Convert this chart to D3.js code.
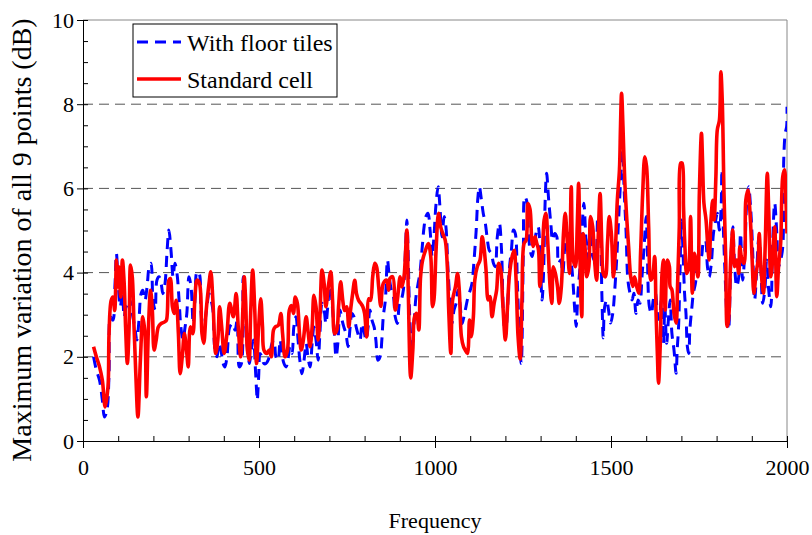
<!DOCTYPE html>
<html>
<head>
<meta charset="utf-8">
<script src="https://cdn.jsdelivr.net/npm/d3@7"></script>
<style>
  body { margin: 0; background: #fff; }
  svg text { font-family: "Liberation Serif", "Times New Roman", serif !important; fill: #000; }
</style>
</head>
<body>
<div id="my_dataviz"></div>
<script>

// frequency (Hz), maximum variation (dB)
var tilesData = [
  [30,2.0],[38,1.68],[47,1.44],[55,0.97],[61,0.57],[68,0.73],[74,1.6],[78,2.95],[85,2.87],[91,3.74],
  [95,4.45],[100,3.74],[106,3.19],[112,3.5],[117,2.95],[123,3.19],[129,3.11],[134,3.34],[140,3.03],[147,2.71],
  [153,2.4],[159,2.87],[165,3.5],[170,3.58],[176,3.34],[182,3.66],[188,4.14],[193,4.22],[199,3.34],[205,3.11],
  [210,3.82],[216,3.9],[222,3.74],[227,3.5],[233,3.74],[239,4.53],[244,5.01],[250,4.53],[256,3.9],[261,4.22],
  [267,3.98],[273,3.34],[278,2.71],[284,2.4],[290,2.71],[295,3.03],[301,3.9],[307,3.66],[313,2.79],[318,3.34],
  [324,4.02],[330,3.98],[335,3.11],[341,2.55],[347,2.87],[352,3.19],[358,3.5],[364,3.34],[369,3.11],[375,2.16],
  [381,2.0],[386,2.32],[392,2.16],[398,1.84],[403,1.76],[409,2.0],[417,2.71],[425,2.79],[432,2.63],[438,2.87],
  [444,1.76],[450,1.84],[455,3.9],[461,3.1],[467,2.24],[473,1.84],[478,2.16],[484,2.4],[490,1.68],[493,1.21],
  [495,0.97],[499,1.52],[503,2.08],[508,2.0],[514,1.84],[520,1.84],[526,1.92],[531,2.08],[537,2.32],[543,2.4],
  [548,2.0],[554,1.92],[560,2.4],[565,2.08],[571,1.84],[577,1.76],[582,1.92],[588,2.24],[594,2.08],[599,2.71],
  [605,2.95],[611,2.4],[616,1.92],[622,1.6],[628,1.92],[634,2.32],[639,2.0],[645,1.76],[651,2.32],[656,2.71],
  [662,2.4],[668,1.92],[673,2.55],[679,3.27],[685,3.11],[690,2.79],[696,3.27],[702,3.9],[707,3.34],[713,2.71],
  [719,2.0],[724,2.32],[730,3.11],[736,2.87],[741,2.71],[747,2.55],[753,2.24],[759,2.71],[764,3.03],[770,2.95],
  [776,2.71],[781,2.55],[787,2.4],[793,2.79],[798,2.63],[804,2.4],[810,2.71],[815,3.11],[821,2.87],[827,2.71],
  [832,2.4],[838,1.92],[844,2.0],[849,2.4],[853,2.95],[859,3.35],[865,4.3],[870,3.9],[876,3.58],[882,3.43],
  [887,2.95],[893,2.79],[899,3.27],[904,3.35],[910,3.58],[916,4.53],[920,5.25],[923,4.69],[929,2.79],[935,2.16],
  [940,2.72],[946,3.43],[952,3.74],[957,3.98],[963,4.53],[969,5.09],[974,5.33],[980,5.41],[986,5.01],[992,4.38],
  [997,4.85],[1003,5.64],[1009,6.04],[1014,5.56],[1020,4.85],[1026,5.33],[1031,5.09],[1037,4.06],[1043,3.27],[1048,2.79],
  [1054,3.11],[1060,3.27],[1065,3.58],[1071,3.27],[1077,2.79],[1082,2.95],[1088,3.19],[1094,3.43],[1100,3.58],[1105,3.74],
  [1111,4.3],[1117,5.01],[1122,5.8],[1126,6.04],[1132,5.72],[1137,5.41],[1143,5.17],[1149,4.77],[1154,4.53],[1160,4.46],
  [1166,4.22],[1171,4.14],[1177,4.85],[1183,5.17],[1189,4.53],[1194,3.11],[1200,2.48],[1206,3.11],[1211,4.06],[1217,4.53],
  [1223,5.01],[1228,4.93],[1234,3.74],[1240,2.48],[1245,1.84],[1251,4.53],[1255,5.8],[1260,5.72],[1266,4.93],[1270,4.54],
  [1276,4.38],[1281,4.62],[1287,4.93],[1293,5.09],[1298,4.62],[1304,3.35],[1308,3.9],[1313,5.72],[1317,6.36],[1323,5.72],
  [1329,5.17],[1334,4.77],[1340,4.93],[1346,4.85],[1351,4.22],[1357,4.3],[1363,3.98],[1368,4.54],[1374,4.85],[1380,4.93],
  [1385,4.46],[1391,3.9],[1397,3.11],[1401,2.72],[1406,3.51],[1412,4.14],[1418,5.09],[1423,5.65],[1429,4.77],[1435,4.3],
  [1440,4.93],[1446,4.46],[1452,4.3],[1457,4.38],[1463,5.33],[1469,5.09],[1474,3.51],[1478,2.45],[1482,3.19],[1488,3.35],
  [1493,3.11],[1499,2.8],[1505,3.03],[1510,3.51],[1516,4.3],[1522,5.33],[1528,6.28],[1533,6.91],[1537,6.04],[1543,4.93],
  [1548,3.82],[1554,3.51],[1560,3.35],[1565,3.51],[1571,3.03],[1577,3.35],[1582,3.27],[1588,3.9],[1594,4.62],[1600,5.33],
  [1603,4.62],[1609,3.19],[1615,3.03],[1620,3.35],[1626,3.51],[1632,3.03],[1637,2.88],[1643,3.35],[1649,2.32],[1653,3.19],
  [1658,2.32],[1663,2.88],[1668,3.35],[1673,2.56],[1679,2.16],[1685,1.61],[1688,2.16],[1692,2.72],[1696,3.98],[1700,5.25],
  [1704,4.62],[1709,3.51],[1713,3.03],[1717,2.24],[1721,2.08],[1724,2.64],[1730,3.19],[1734,3.51],[1740,3.75],[1745,4.14],
  [1751,4.3],[1757,4.38],[1762,4.7],[1768,4.77],[1774,4.14],[1779,3.9],[1785,4.22],[1791,4.93],[1796,5.17],[1802,5.41],
  [1808,5.01],[1813,5.57],[1815,6.44],[1819,5.09],[1824,3.98],[1829,3.03],[1834,2.64],[1840,4.14],[1846,5.09],[1851,4.22],
  [1857,3.67],[1863,3.9],[1868,4.93],[1874,3.82],[1880,4.46],[1885,5.57],[1891,6.04],[1897,5.49],[1902,4.62],[1908,3.35],
  [1914,4.06],[1920,4.85],[1925,4.3],[1931,3.27],[1937,3.59],[1942,4.3],[1948,3.59],[1954,3.19],[1959,4.62],[1965,5.65],
  [1971,4.93],[1976,4.14],[1982,4.3],[1988,4.62],[1991,6.75],[1995,7.31],[1999,7.47],[2000,7.94]
];

var standardData = [
  [30,2.24],[38,2.0],[47,1.76],[55,1.44],[63,0.81],[71,1.29],[74,2.55],[80,3.34],[85,3.42],[90,3.1],
  [95,4.3],[98,3.66],[102,4.14],[107,3.42],[112,4.3],[117,3.74],[121,2.71],[126,1.84],[131,2.71],[135,4.18],
  [140,3.9],[145,2.71],[150,1.6],[156,0.57],[163,1.92],[170,2.95],[176,2.55],[180,1.05],[186,2.71],[192,3.58],
  [197,3.1],[202,2.16],[208,2.4],[214,2.71],[222,2.79],[232,2.83],[237,2.87],[244,3.82],[248,3.86],[254,3.19],
  [259,3.03],[265,3.34],[271,2.55],[276,1.6],[282,2.0],[288,2.55],[294,2.16],[299,1.76],[305,2.71],[312,2.55],
  [318,3.42],[324,3.82],[331,3.74],[338,2.55],[343,2.32],[350,3.1],[358,3.74],[363,4.02],[369,3.34],[377,2.08],
  [383,2.4],[388,3.19],[394,2.71],[401,2.08],[409,2.55],[417,3.27],[427,2.95],[435,3.5],[441,2.71],[448,2.0],
  [454,3.1],[458,3.9],[462,3.34],[467,2.16],[472,1.92],[476,2.95],[482,4.06],[488,3.1],[493,1.84],[499,2.71],
  [505,3.38],[510,2.71],[514,2.16],[522,2.08],[529,2.16],[535,2.0],[541,2.63],[546,2.71],[555,2.75],[562,3.03],
  [567,2.55],[574,2.0],[581,2.16],[586,3.1],[592,3.22],[598,3.03],[603,3.42],[609,3.27],[615,2.55],[620,2.16],
  [626,2.4],[634,2.95],[639,2.63],[645,2.24],[651,2.71],[656,3.46],[662,3.19],[668,2.4],[673,2.95],[679,4.06],
  [685,3.74],[690,3.19],[698,3.74],[704,4.02],[709,3.34],[715,2.55],[721,2.63],[726,3.19],[732,3.78],[738,3.34],
  [743,3.1],[749,3.19],[755,2.71],[760,3.1],[766,3.5],[772,3.82],[777,3.5],[783,3.34],[789,3.27],[795,3.19],
  [800,3.03],[806,2.47],[812,3.38],[817,3.34],[823,3.9],[829,4.22],[834,4.14],[840,3.66],[846,3.2],[853,3.74],
  [863,3.82],[868,3.58],[872,3.86],[880,3.9],[887,3.11],[893,3.35],[901,3.9],[906,3.66],[912,3.9],[920,5.01],
  [924,3.58],[931,1.5],[937,2.16],[942,2.95],[948,3.03],[954,2.64],[959,3.9],[965,4.3],[973,4.53],[981,4.69],
  [988,4.38],[993,3.19],[997,3.35],[1003,4.53],[1010,5.41],[1016,5.09],[1022,4.93],[1029,4.77],[1035,4.14],[1039,3.11],
  [1045,2.08],[1050,3.35],[1058,3.66],[1064,3.98],[1069,3.58],[1075,2.48],[1081,2.24],[1086,2.16],[1092,2.08],[1098,2.87],
  [1103,2.48],[1109,2.95],[1113,3.82],[1120,4.14],[1128,4.3],[1134,4.85],[1139,4.61],[1145,4.06],[1151,3.35],[1156,3.43],
  [1162,2.95],[1168,3.27],[1175,3.58],[1181,4.22],[1187,4.06],[1192,3.35],[1200,2.4],[1206,3.19],[1211,3.9],[1219,4.38],
  [1225,4.53],[1230,3.9],[1236,2.48],[1242,1.95],[1247,3.35],[1253,4.69],[1259,4.77],[1264,5.64],[1270,5.5],[1275,4.77],
  [1279,4.62],[1284,4.85],[1289,4.7],[1294,4.54],[1298,3.67],[1304,4.14],[1310,5.25],[1315,5.41],[1321,4.62],[1327,3.67],
  [1332,3.27],[1336,4.14],[1342,3.98],[1348,3.67],[1353,3.27],[1359,3.67],[1365,4.93],[1370,5.41],[1376,4.7],[1382,3.98],
  [1387,6.04],[1393,4.3],[1399,4.14],[1404,5.09],[1408,6.12],[1412,4.3],[1417,2.95],[1421,4.93],[1426,4.62],[1431,3.9],
  [1437,4.14],[1442,5.33],[1448,5.09],[1454,4.22],[1459,3.82],[1464,4.93],[1469,5.88],[1474,4.62],[1478,3.98],[1484,3.9],
  [1490,4.7],[1495,5.33],[1501,4.93],[1507,3.9],[1512,4.46],[1518,5.72],[1524,6.44],[1527,7.47],[1530,8.26],[1534,7.47],
  [1539,6.2],[1545,5.25],[1550,4.62],[1556,3.9],[1562,3.67],[1567,3.9],[1573,3.67],[1579,3.51],[1584,4.46],[1590,5.88],
  [1596,6.75],[1601,6.52],[1607,5.09],[1613,3.82],[1618,3.9],[1624,4.38],[1628,3.03],[1632,2.0],[1635,1.37],[1640,2.32],
  [1645,3.98],[1649,4.3],[1654,3.11],[1660,4.3],[1666,4.14],[1668,3.67],[1673,3.59],[1679,3.03],[1685,2.8],[1689,3.67],
  [1694,5.09],[1698,6.6],[1702,6.6],[1706,5.57],[1710,4.62],[1715,3.98],[1721,4.14],[1726,5.33],[1731,3.51],[1737,4.46],
  [1741,4.3],[1747,3.9],[1751,5.88],[1757,7.31],[1760,6.67],[1764,5.65],[1770,5.25],[1775,4.62],[1779,4.3],[1784,5.25],
  [1789,5.72],[1793,5.25],[1798,6.28],[1802,7.39],[1808,7.62],[1812,8.77],[1816,8.1],[1821,5.88],[1826,4.3],[1830,2.72],
  [1834,2.88],[1840,4.3],[1846,5.01],[1851,4.14],[1857,4.3],[1863,3.98],[1866,4.62],[1872,4.3],[1878,4.22],[1883,5.72],
  [1889,5.96],[1895,5.41],[1901,4.3],[1906,3.51],[1912,3.98],[1918,4.3],[1921,4.93],[1927,3.98],[1933,3.51],[1938,4.62],
  [1944,6.36],[1948,5.49],[1954,3.9],[1959,4.3],[1965,5.09],[1971,3.43],[1976,4.14],[1982,4.7],[1988,6.28],[1993,6.44],
  [1997,5.72],[2000,4.93]
];

var seriesNames = ["With floor tiles", "Standard cell"];
var xTicks = [0, 500, 1000, 1500, 2000];
var yTicks = [0, 2, 4, 6, 8, 10];
var gridValues = [2, 4, 6, 8];

var margin = {top: 20, right: 25, bottom: 94, left: 83},
    width = 812 - margin.left - margin.right,
    height = 535 - margin.top - margin.bottom;

var svg = d3.select("#my_dataviz")
  .append("svg")
    .attr("width", width + margin.left + margin.right)
    .attr("height", height + margin.top + margin.bottom)
    .attr("font-family", "Liberation Serif")
    .style("display", "block")
  .append("g")
    .attr("transform", "translate(" + margin.left + "," + margin.top + ")");

var x = d3.scaleLinear().domain([0, 2000]).range([0, width]);
var y = d3.scaleLinear().domain([0, 10]).range([height, 0]);

// dashed gridlines
svg.selectAll(".grid")
  .data(gridValues)
  .enter().append("line")
    .attr("x1", 0).attr("x2", width)
    .attr("y1", function(d) { return y(d); })
    .attr("y2", function(d) { return y(d); })
    .attr("stroke", "#555")
    .attr("stroke-width", 1)
    .attr("stroke-dasharray", "10,6");

// top and right border of plot area
svg.append("path")
  .attr("d", "M0," + y(10) + "H" + width + "V" + height)
  .attr("fill", "none")
  .attr("stroke", "#888")
  .attr("stroke-width", 1);

svg.append("clipPath").attr("id", "clip")
  .append("rect").attr("width", width).attr("height", height);

var line = d3.line()
  .x(function(d) { return x(d[0]); })
  .y(function(d) { return y(d[1]); })
  .curve(d3.curveCatmullRom.alpha(0.5));

svg.append("path")
  .datum(tilesData)
  .attr("clip-path", "url(#clip)")
  .attr("fill", "none")
  .attr("stroke", "#0000ff")
  .attr("stroke-width", 3)
  .attr("stroke-dasharray", "11,7")
  .attr("d", line);

svg.append("path")
  .datum(standardData)
  .attr("clip-path", "url(#clip)")
  .attr("fill", "none")
  .attr("stroke", "#ff0000")
  .attr("stroke-width", 3.6)
  .attr("stroke-linejoin", "round")
  .attr("d", line);

// x axis: minor ticks inside, major ticks crossing
svg.append("g")
  .attr("transform", "translate(0," + height + ")")
  .call(d3.axisTop(x).tickValues(d3.range(0, 2001, 100)).tickSize(5).tickFormat("").tickSizeOuter(0))
  .call(function(g) { g.select(".domain").remove(); });

svg.append("g")
  .attr("class", "xaxis")
  .attr("transform", "translate(0," + height + ")")
  .call(d3.axisBottom(x).tickValues(xTicks).tickFormat(d3.format("d")).tickSize(7).tickPadding(11).tickSizeOuter(0));

// y axis
svg.append("g")
  .call(d3.axisRight(y).tickValues(d3.range(0, 10.01, 0.5)).tickSize(5).tickFormat("").tickSizeOuter(0))
  .call(function(g) { g.select(".domain").remove(); });

svg.append("g")
  .attr("class", "yaxis")
  .call(d3.axisLeft(y).tickValues(yTicks).tickSize(6).tickPadding(3).tickSizeOuter(0));

svg.selectAll(".tick line").attr("stroke", "#000");
svg.selectAll(".domain").attr("stroke", "#000");
svg.selectAll(".xaxis, .yaxis")
  .attr("font-family", "Liberation Serif")
  .attr("font-size", 22);
svg.selectAll(".xaxis text, .yaxis text").attr("fill", "#000");

// axis titles
svg.append("text")
  .attr("x", width / 2)
  .attr("y", height + 87)
  .attr("text-anchor", "middle")
  .attr("font-size", 22)
  .text("Frequency");

svg.append("text")
  .attr("transform", "translate(" + (-52) + "," + (y(0) - 201) + ") rotate(-90)")
  .attr("text-anchor", "middle")
  .attr("font-size", 28)
  .text("Maximum variation of all 9 points (dB)");

// legend
var legend = svg.append("g").attr("transform", "translate(50,4)");
legend.append("rect")
  .attr("width", 204).attr("height", 73)
  .attr("fill", "#fff").attr("stroke", "#000").attr("stroke-width", 1);

var legendItems = legend.selectAll(".item")
  .data(seriesNames)
  .enter().append("g")
    .attr("transform", function(d, i) { return "translate(0," + (18 + i * 37) + ")"; });

legendItems.append("line")
  .attr("x1", 4).attr("x2", 48)
  .attr("stroke", function(d, i) { return i === 0 ? "#0000ff" : "#ff0000"; })
  .attr("stroke-width", function(d, i) { return i === 0 ? 3 : 3.6; })
  .attr("stroke-dasharray", function(d, i) { return i === 0 ? "11,7" : null; });

legendItems.append("text")
  .attr("x", 54)
  .attr("y", 9)
  .attr("font-size", 24)
  .text(function(d) { return d; });

</script>
</body>
</html>
